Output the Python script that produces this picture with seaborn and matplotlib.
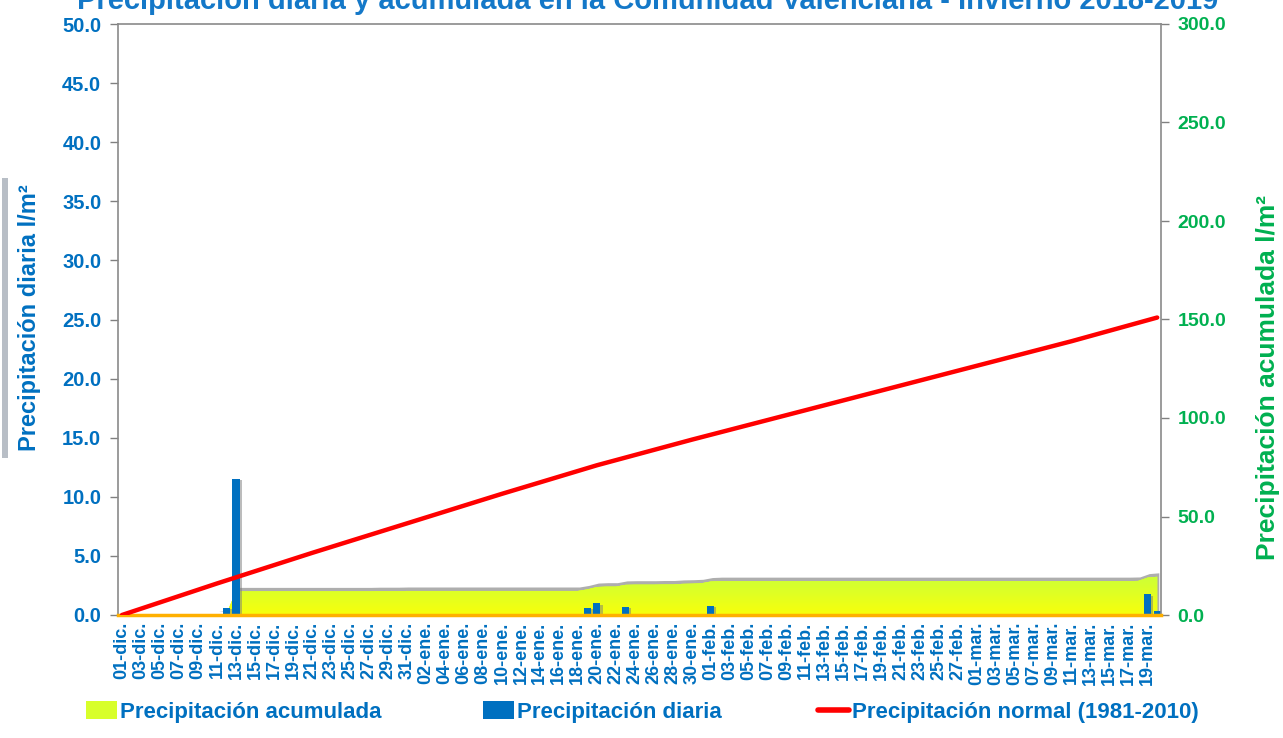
import numpy as np
import matplotlib
matplotlib.use("Agg")
import matplotlib.pyplot as plt
import matplotlib.patheffects as pe
from matplotlib.patches import Patch, Rectangle
from matplotlib.lines import Line2D
from matplotlib.colors import LinearSegmentedColormap
import seaborn as sns

# ---------------- data ----------------
days = list(range(110))  # 01-dic ... 20-mar

daily = [
    0, 0, 0, 0, 0, 0, 0, 0, 0, 0,
    0, 0.6, 11.5, 0, 0, 0, 0, 0, 0, 0,
    0, 0, 0, 0, 0, 0, 0, 0.1, 0, 0,
    0, 0, 0, 0, 0, 0, 0, 0, 0, 0,
    0, 0, 0, 0, 0, 0, 0, 0, 0, 0.6,
    1.0, 0.05, 0, 0.7, 0, 0, 0, 0, 0, 0.1,
    0, 0.1, 0.8, 0, 0, 0, 0, 0, 0, 0,
    0, 0, 0, 0, 0, 0, 0, 0, 0, 0,
    0, 0, 0, 0, 0, 0, 0, 0, 0, 0,
    0, 0, 0, 0, 0, 0, 0, 0, 0, 0,
    0, 0, 0, 0, 0, 0, 0, 0, 1.75, 0.35,
]

cumulative = [
    0, 0, 0, 0, 0, 0, 0, 0, 0, 0,
    0, 0.6, 12.0, 12.0, 12.0, 12.0, 12.0, 12.0, 12.0, 12.0,
    12.0, 12.0, 12.0, 12.0, 12.0, 12.0, 12.0, 12.1, 12.1, 12.1,
    12.2, 12.2, 12.2, 12.2, 12.2, 12.2, 12.2, 12.2, 12.2, 12.2,
    12.2, 12.2, 12.2, 12.2, 12.2, 12.2, 12.2, 12.2, 12.2, 13.0,
    14.2, 14.4, 14.4, 15.3, 15.4, 15.4, 15.4, 15.5, 15.5, 15.8,
    15.9, 16.1, 17.0, 17.2, 17.2, 17.2, 17.2, 17.2, 17.2, 17.2,
    17.2, 17.2, 17.2, 17.2, 17.2, 17.2, 17.2, 17.2, 17.2, 17.2,
    17.2, 17.2, 17.2, 17.2, 17.2, 17.2, 17.2, 17.2, 17.2, 17.2,
    17.2, 17.2, 17.2, 17.2, 17.2, 17.2, 17.2, 17.2, 17.2, 17.2,
    17.2, 17.2, 17.2, 17.2, 17.2, 17.2, 17.2, 17.3, 19.0, 19.4,
]

normal_days = [0, 10, 20, 30, 40, 50, 60, 70, 80, 90, 100, 109]
normal_vals = [0, 16.0, 31.5, 46.5, 61.5, 76.0, 89.0, 101.5, 114.0, 126.5, 139.0, 151.0]

tick_labels = [
    "01-dic.", "03-dic.", "05-dic.", "07-dic.", "09-dic.", "11-dic.", "13-dic.", "15-dic.",
    "17-dic.", "19-dic.", "21-dic.", "23-dic.", "25-dic.", "27-dic.", "29-dic.", "31-dic.",
    "02-ene.", "04-ene.", "06-ene.", "08-ene.", "10-ene.", "12-ene.", "14-ene.", "16-ene.",
    "18-ene.", "20-ene.", "22-ene.", "24-ene.", "26-ene.", "28-ene.", "30-ene.",
    "01-feb.", "03-feb.", "05-feb.", "07-feb.", "09-feb.", "11-feb.", "13-feb.", "15-feb.",
    "17-feb.", "19-feb.", "21-feb.", "23-feb.", "25-feb.", "27-feb.",
    "01-mar.", "03-mar.", "05-mar.", "07-mar.", "09-mar.", "11-mar.", "13-mar.", "15-mar.",
    "17-mar.", "19-mar.",
]
tick_pos = days[0:110:2]

left_ticks = [0, 5, 10, 15, 20, 25, 30, 35, 40, 45, 50]
right_ticks = [0, 50, 100, 150, 200, 250, 300]

title = "Precipitación diaria y acumulada en la Comunidad Valenciana - Invierno 2018-2019"
legend_labels = ["Precipitación acumulada", "Precipitación diaria", "Precipitación normal (1981-2010)"]

# ---------------- style ----------------
sns.set_style("white")
plt.rcParams["font.family"] = ["Liberation Sans", "DejaVu Sans"]
plt.rcParams["font.weight"] = "bold"

BLUE = "#0070C0"
GREEN = "#00B050"
RED = "#FF0000"
ACC = "#D8FF2A"
W, H = 1283, 738

fig = plt.figure(figsize=(W / 100, H / 100), dpi=100)

x0, x1 = 118, 1161
y0, y1 = 24, 615
ax = fig.add_axes([x0 / W, 1 - y1 / H, (x1 - x0) / W, (y1 - y0) / H])
ax2 = ax.twinx()
ax3 = ax.twinx()
ax2.set_zorder(1)
ax.set_zorder(2)
ax3.set_zorder(3)
for a in (ax, ax2, ax3):
    a.patch.set_visible(False)

xlim = (-0.42, 109.4)

# --- accumulated area (right scale) ---
cum = np.array(cumulative)
xs = np.array(days)
poly = ax2.fill_between(xs, 0, cum, color=ACC, linewidth=0, zorder=1)
poly.set_path_effects([pe.withSimplePatchShadow(offset=(1.5, 2.5), shadow_rgbFace="#8c8c8c", alpha=0.7),
                       pe.Normal()])
cmap = LinearSegmentedColormap.from_list("acc", ["#F8FF0A", "#CCFF38"])
grad = np.linspace(0, 1, 256).reshape(-1, 1)
im = ax2.imshow(grad, cmap=cmap, origin="lower", aspect="auto",
                extent=[xlim[0], xlim[1], 0, cum.max()], zorder=2)
im.set_clip_path(poly.get_paths()[0], transform=ax2.transData)
ax2.set_xlim(*xlim)
ax2.set_ylim(0, 300)
ax2.set_yticks(right_ticks)
ax2.set_yticklabels([f"{v:.1f}" for v in right_ticks])
ax2.tick_params(axis="y", colors="#808080", labelcolor=GREEN, labelsize=14, length=6, width=1, pad=6)
for s in ax2.spines.values():
    s.set_visible(False)

# --- daily bars (left scale) ---
sns.barplot(x=days, y=daily, native_scale=True, ax=ax, color=BLUE, saturation=1,
            width=0.75, linewidth=0, errorbar=None)
for p in ax.patches:
    p.set_path_effects([pe.withSimplePatchShadow(offset=(1.5, -1), shadow_rgbFace="#7a7a7a", alpha=0.5),
                        pe.Normal()])
ax.set_xlim(*xlim)
ax.set_ylim(0, 50)
ax.set_yticks(left_ticks)
ax.set_yticklabels([f"{v:.1f}" for v in left_ticks])
ax.tick_params(axis="y", colors="#808080", labelcolor=BLUE, labelsize=14.5, length=6, width=1, pad=6,
               left=True)
ax.set_xticks(tick_pos)
ax.set_xticklabels(tick_labels, rotation=90, color=BLUE, fontsize=13, fontweight="bold")
ax.tick_params(axis="x", length=0, pad=5)
ax.set_xlabel("")
ax.set_ylabel("")
for side in ("left", "top", "right"):
    ax.spines[side].set_color("#8a8a8a")
    ax.spines[side].set_linewidth(1.2)
ax.spines["bottom"].set_color("#FFB000")
ax.spines["bottom"].set_linewidth(2.5)

# --- normal line (right scale) ---
sns.lineplot(x=normal_days, y=normal_vals, ax=ax3, color=RED, linewidth=3.2)
ax3.set_xlim(*xlim)
ax3.set_ylim(0, 300)
ax3.yaxis.set_visible(False)
ax3.set_xlabel("")
for s in ax3.spines.values():
    s.set_visible(False)

# --- texts ---
fig.text(648 / W, 1 - 9 / H, title, ha="center", va="baseline", fontsize=21,
         fontweight="bold", color="#1478C8")
fig.text(30 / W, 1 - 318 / H, "Precipitación diaria l/m²", rotation=90, ha="center", va="center",
         fontsize=17, fontweight="bold", color=BLUE)
fig.patches.append(Rectangle((2 / W, 1 - 458 / H), 6 / W, 280 / H, transform=fig.transFigure,
                             facecolor="#B8BEC6", edgecolor="none", zorder=-5))
fig.text(1268 / W, 1 - 378 / H, "Precipitación acumulada l/m²", rotation=90, ha="center", va="center",
         fontsize=19, fontweight="bold", color=GREEN)

handles = [Patch(facecolor=ACC, edgecolor="none"),
           Patch(facecolor=BLUE, edgecolor="none"),
           Line2D([0], [0], color=RED, linewidth=4)]
starts = [86, 483, 818]
for h, lab, sx in zip(handles, legend_labels, starts):
    lg = fig.legend([h], [lab], loc="center left", bbox_to_anchor=(sx / W, 1 - 712 / H),
                    frameon=False, fontsize=16, handlelength=1.4, handleheight=0.85,
                    handletextpad=0.15, borderpad=0, borderaxespad=0)
    for t in lg.get_texts():
        t.set_color(BLUE)
        t.set_fontweight("bold")

fig.savefig("out.png", dpi=100)
